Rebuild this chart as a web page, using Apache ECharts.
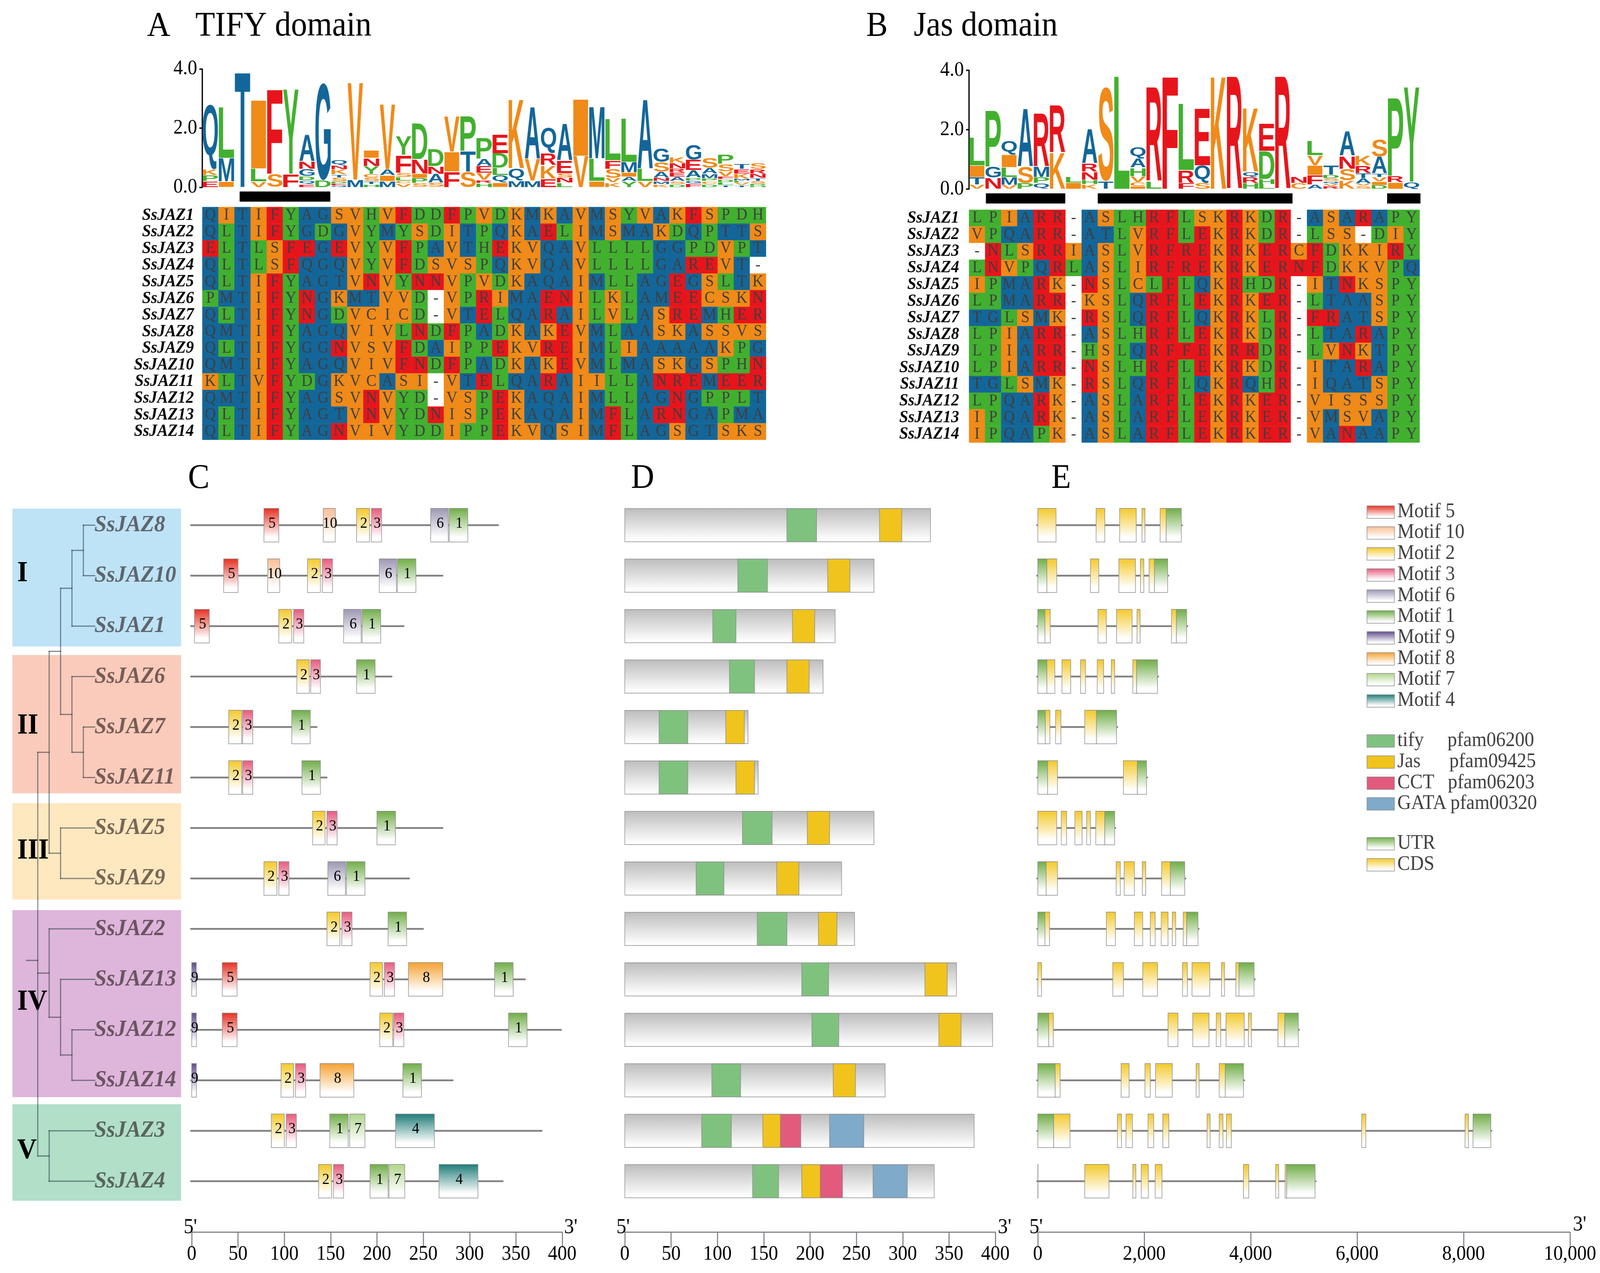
<!DOCTYPE html>
<html><head><meta charset="utf-8">
<style>html,body{margin:0;padding:0;background:#fff;overflow:hidden}#c{width:4374px;height:3259px;transform-origin:0 0}</style>
<script src="https://cdn.jsdelivr.net/npm/echarts@6/dist/echarts.min.js"></script>
</head><body><div id="c"></div>
<script>
// ---------- DATA ----------
const alignNames=['SsJAZ1','SsJAZ2','SsJAZ3','SsJAZ4','SsJAZ5','SsJAZ6','SsJAZ7','SsJAZ8','SsJAZ9','SsJAZ10','SsJAZ11','SsJAZ12','SsJAZ13','SsJAZ14'];
const tifyRows=['QITIFYAGSVHVFDDFPVDKMKAVMSYVAKFSPDH','QLTIFYGDGVYMYSDITPQKAELIMSMAKDQPTTS','ELTLSFEGEVYVFPAVTHEKVQAVLLLLGGPDVPT','QLTLSFQGQVYVFDSVSPQKVQAVLLLLGAREVT-','QLTIFYAGTVNVYNNVPVDKAQAIMLLAGEGSLTK','PMTIFYNGKMTVVD-VPRIMAENILKLAMEECSKN','QLTIFYNGDVCICD-VTELQARAILVLASREMHER','QMTIFYAGQVIVLNDFPADKAKEVMLAASKASSVS','QLTIFYGGNVSVFDAIPPEKVREIMLIAAAAAKPG','QMTIFYAGQVIVFNDFPADKAKEVMLMASKGSPHN','KLTVFYDGKVCASI-VTELQARAIILLANREMEER','QMTIFYAGSVNVYD-VSPEKAQAIMLLAGNGPPLT','QLTIFYAGTVNVYDNISPEKAQAIMFLARNGAPMA','QLTIFYAGNVIVYDDIPPEKVQSIMFLAGSGTSKS'];
const jasRows=['LPIARR-ASLHRFLSKRKDR-ASARAPY','VPQARR-ATLVRFLEKRKDR-LSS-DIY','-NLSRRIASLVRFREKRKERCFDKKIRY','LNVPQRLASLIRFREKRKERNFDKKVPQ','IPMARK-NSLCLFLQKRHDR-ITNKSPY','LPMARR-KSLQRFLEKRKER-LTAASPY','TGLSMK-RSLQRFLQKRKLR-FRATSPY','LPIARR-ASLHRFLEKRKDR-LTARAPY','LPIARR-HSLQRFFEKRRDR-LVNKTPY','LPIARR-NSLHRFLEKRKDR-ITARAPY','TGLSMK-RSLQRFLQKRQHR-IQATSPY','LPQARK-ASLARFLEKRKER-VISSSPY','IPQARK-ASLARFLEKRKER-VMSVAPY','IPQAPK-ASLARFLEKRKER-VANAAPY'];
const tifyLogoLetters=['EPKQ','IML','T','VLI','SF','FY','EQDGNA','DG','QEDSTKNQ','MV','HTSCYNI','MIAV','VCLSFY','SPIND','SAND','FIV','STP','HRVEAP','IQLDE','MQK','MVA','EKRQ','LNSEA','VI','ILM','KVSFL','YAIML','VLA','KMNASG','DSAERNK','FGPAEG','DCPMAS','TLDFVSP','TVLMKET','HDSTNRS'];
const tifyLogoHeights=[[.2,.2,.2,2.2],[.19,.8,1.73],[3.9],[.19,.44,2.33],[.45,2.87],[.45,2.87],[.11,.12,.14,.25,.26,.9],[.23,3.3],[.06,.07,.06,.14,.1,.17,.13,.2],[.25,3.29],[.1,.1,.12,.12,.27,.28,.26],[.2,.2,.2,2.2],[.12,.1,.12,.15,.6,.65],[.14,.17,.15,.48,1.22],[.15,.3,.26,.6],[.53,.67,1.2],[.53,.7,1.2],[.14,.1,.24,.24,.24,.72],[.15,.25,.25,.5,.65],[.22,.42,2.34],[.22,.74,1.75],[.29,.45,.41,.87],[.15,.17,.15,.43,1.25],[1.06,1.93],[.2,.77,1.75],[.16,.15,.31,.29,1.4],[.2,.15,.15,.35,1.47],[.2,.43,2.34],[.1,.1,.12,.2,.33,.47],[.1,.1,.15,.15,.13,.18,.2],[.12,.1,.1,.25,.35,.5],[.1,.1,.1,.15,.2,.35],[.07,.1,.1,.1,.17,.25,.33],[.07,.08,.07,.07,.17,.15,.17],[.05,.06,.1,.1,.15,.15,.2]];
const jasLogoLetters=['VTIL','NGP','VMLIQ','PSA','QPMR','KR','IL','KHNRA','TS','L','ICVHAQ','LR','F','FRL','SQE','K','R','HRQK','LHDE','R','CN','AFIVL','RVQSDT','KSNA','SVATRK','DIVTAS','IRP','QY'];
const jasLogoHeights=[[.15,.25,.4,.94],[.38,.38,1.9],[.13,.27,.33,.43,.48],[.2,.55,1.95],[.2,.2,.35,1.8],[1.23,1.6],[.22,.2],[.16,.15,.27,.29,1.15],[.26,3.18],[3.8],[.1,.13,.2,.29,.31,.39],[.26,3.18],[3.8],[.2,.43,2.25],[.2,.6,1.93],[3.8],[3.8],[.2,.2,.18,2.15],[.16,.17,.95,.93],[3.8],[.2,.22],[.15,.32,.33,.33,.49],[.1,.08,.08,.1,.12,.32],[.29,.39,.43,.84],[.11,.08,.17,.17,.26,.34],[.13,.12,.15,.12,.57,.59],[.22,.22,2.65],[.24,3.2]];
const tifyBars=[[2.32,7.95]];
const jasBars=[[1.05,5.98],[8,20.1],[25.98,28.05]];

const geneOrder=['SsJAZ8','SsJAZ10','SsJAZ1','SsJAZ6','SsJAZ7','SsJAZ11','SsJAZ5','SsJAZ9','SsJAZ2','SsJAZ13','SsJAZ12','SsJAZ14','SsJAZ3','SsJAZ4'];
const proteinLength=[330,270,228,215,134,145,270,234,249,359,398,281,377,335];
const motifs8=[[5,78,94],[10,142,155],[2,178,192],[3,194,205],[6,258,277],[1,278,298]];
const motifs10=[[5,34.5,50],[10,82,95],[2,125,139],[3,141,152],[6,202.5,221],[1,222,242]];
const motifs1=[[5,3,19],[2,94,108],[3,110,121],[6,164,183],[1,184,204]];
const motifs6=[[2,113.5,127],[3,128.5,139],[1,178,198]];
const motifs7=[[2,40,54],[3,55,66],[1,108,128]];
const motifs11=[[2,40,54],[3,55,66],[1,119,139]];
const motifs5=[[2,130.5,144],[3,146,157],[1,200,220]];
const motifs9=[[2,78,92],[3,94,105],[6,147,166],[1,167,187]];
const motifs2=[[2,146,160],[3,162,173],[1,212,232]];
const motifs13=[[9,0,5],[5,33,49],[2,192.5,206],[3,208,219],[8,234,271],[1,327,347]];
const motifs12=[[9,0,5],[5,33,49],[2,203,217],[3,218,229],[1,342,362]];
const motifs14=[[9,0,5],[2,96.5,110],[3,112,123],[8,138.5,175],[1,228,248]];
const motifs3=[[2,86,100],[3,102,113],[1,149,169],[7,170.5,187],[4,220,262]];
const motifs4=[[2,137,151],[3,153,164],[1,192.5,212],[7,213,230],[4,267,309]];
const motifsByGene=[motifs8,motifs10,motifs1,motifs6,motifs7,motifs11,motifs5,motifs9,motifs2,motifs13,motifs12,motifs14,motifs3,motifs4];

const tifyDomain=[[175,207],[122,154],[95,120],[113,140],[37,68],[37,68],[127,159],[77,107],[143,175],[191,220],[202,231],[94,125],[83,115],[138,166]];
const jasDomain=[[275,299],[219,243],[181,205],[175,199],[109,129],[120,140],[197,221],[164,188],[209,229],[324,348],[339,363],[225,249],[149,168],[191,211]];
const cctDomain=[null,null,null,null,null,null,null,null,null,null,null,null,[168,190],[211,235]];
const gataDomain=[null,null,null,null,null,null,null,null,null,null,null,null,[221,258],[268,305]];
const proteinEnd=[330,269,227,214,133,144,269,234,248,358,397,281,377,334];

const exons8=[['C',0,342],['C',1096,1260],['C',1537,1850],['C',1957,2014],['C',2299,2413],['U',2413,2697]];
const exons10=[['U',0,171],['C',171,356],['C',989,1146],['C',1523,1836],['C',1929,1993],['C',2092,2192],['U',2192,2441]];
const exons1=[['U',0,135],['C',135,235],['C',1132,1288],['C',1480,1772],['C',1865,1922],['C',2512,2605],['U',2605,2797]];
const exons6=[['U',0,171],['C',171,320],['C',455,619],['C',804,897],['C',1117,1238],['C',1381,1445],['C',1786,1857],['U',1857,2249]];
const exons7=[['U',0,142],['C',142,228],['C',334,434],['C',882,1103],['U',1103,1480]];
const exons11=[['U',0,185],['C',185,370],['C',1608,1872],['U',1872,2043]];
const exons5=[['C',0,356],['C',441,541],['C',697,833],['C',918,989],['C',1089,1260],['U',1260,1445]];
const exons9=[['U',0,157],['C',157,370],['C',1473,1551],['C',1623,1815],['C',1964,2028],['C',2327,2491],['U',2491,2761]];
const exons2=[['U',0,135],['C',135,221],['C',1288,1459],['C',1815,1971],['C',2114,2206],['C',2320,2448],['C',2527,2591],['C',2733,2797],['U',2797,3010]];
const exons13=[['C',0,71],['C',1409,1608],['C',1971,2249],['C',2719,2811],['C',2897,3231],['C',3452,3509],['C',3722,3779],['U',3779,4064]];
const exons12=[['U',0,206],['C',206,292],['C',2448,2633],['C',2911,3217],['C',3352,3438],['C',3537,3879],['C',3957,4014],['C',4512,4640],['U',4640,4896]];
const exons14=[['U',0,327],['C',327,420],['C',1566,1715],['C',2014,2114],['C',2213,2527],['C',2975,3032],['C',3409,3523],['U',3523,3865]];
const exons3=[['U',0,299],['C',299,605],['C',1495,1573],['C',1658,1779],['C',2071,2178],['C',2349,2462],['C',3181,3238],['C',3409,3480],['C',3544,3637],['C',6085,6163],['C',8028,8092],['U',8177,8512]];
const exons4=[['U',0,4],['C',882,1338],['C',1786,1843],['C',1943,2078],['C',2206,2334],['C',3864,3964],['C',4469,4526],['C',4647,4676],['U',4676,5210]];
const exonsByGene=[exons8,exons10,exons1,exons6,exons7,exons11,exons5,exons9,exons2,exons13,exons12,exons14,exons3,exons4];

// nested [depth, child, child...]; a plain number is the row of a leaf
const treeShape=[1,[2,[3,[4,[5,0,1],2],[4,3,[5,4,5]]],[3,6,7]],[2,8,[3,9,[4,10,11]]],[2,12,13]];

const aaTicks=[0,50,100,150,200,250,300,350,400];
const bpTicks=[0,2000,4000,6000,8000,10000];
const motifLegend=[5,10,2,3,6,1,9,8,7,4];
const domainLegend=[['tify','pfam06200'],['Jas','pfam09425'],['CCT','pfam06203'],['GATA','pfam00320']];

// the browser window can be narrower than the chart: fit the whole chart in it
const host=document.getElementById('c');
if(window.innerWidth<4374){host.style.transform='scaleX('+(window.innerWidth/4374)+')';}

// ---------- STYLE ----------
const SERIF='"Liberation Serif"';
const residueColor={Q:'#136699',T:'#136699',A:'#136699',G:'#136699',M:'#136699',L:'#42B02F',Y:'#42B02F',P:'#42B02F',D:'#42B02F',H:'#42B02F',V:'#F08A18',I:'#F08A18',S:'#F08A18',K:'#F08A18',C:'#F08A18',F:'#E7151B',N:'#E7151B',E:'#E7151B',R:'#E7151B','-':'#FFFFFF'};
const motifColor={5:'#E53021',10:'#F9BE94',2:'#F4C92A',3:'#E75B7D',6:'#9D97B4',1:'#70AD47',9:'#5E4A8B',8:'#F5A232',7:'#B0D58C',4:'#1F7C78'};
const domainColor={tify:'#7FC27E',Jas:'#F0C41C',CCT:'#E25A7C',GATA:'#7FAAC9'};
const grad=(c,end)=>new echarts.graphic.LinearGradient(0,0,0,1,[{offset:0,color:c},{offset:end||0.85,color:'#FFFFFF'},{offset:1,color:'#FFFFFF'}]);
const EDGE='#8C8C8C',AXIS_GREY='#85808A';

// stretched sequence-logo glyph
const mCtx=document.createElement('canvas').getContext('2d');
const LOGO_FONT='bold 200px "Liberation Sans"';
const glyphBox={};
function glyph(ch){
  if(!glyphBox[ch]){mCtx.font=LOGO_FONT;mCtx.textBaseline='middle';mCtx.textAlign='left';
    const m=mCtx.measureText(ch);
    glyphBox[ch]={l:m.actualBoundingBoxLeft,r:m.actualBoundingBoxRight,a:m.actualBoundingBoxAscent,d:m.actualBoundingBoxDescent};}
  return glyphBox[ch];
}
function logoSeries(letters,heights,bars,gridIdx){
  const items=[];
  letters.forEach((s,col)=>{let base=0;[...s].forEach((ch,k)=>{const h=heights[col][k];items.push([col,base,base+h,ch]);base+=h;});});
  return [{type:'custom',xAxisIndex:gridIdx,yAxisIndex:gridIdx,coordinateSystem:'cartesian2d',silent:true,animation:false,
    data:items.map(d=>[d[0],d[2]]),
    renderItem(params,api){
      const d=items[params.dataIndex];
      const p0=api.coord([d[0],d[1]]),p1=api.coord([d[0]+1,d[2]]);
      const x0=p0[0]+1,x1=p1[0]-1,yb=p0[1]-0.7,yt=p1[1]+0.7;
      const g=glyph(d[3]);
      const sx=(x1-x0)/(g.r+g.l),sy=Math.max(yb-yt,1)/(g.a+g.d);
      return {type:'text',x:x0+g.l*sx,y:yt+g.a*sy,scaleX:sx,scaleY:sy,
        style:{text:d[3],x:0,y:0,font:LOGO_FONT,fill:residueColor[d[3]],align:'left',verticalAlign:'middle',textAlign:'left',textVerticalAlign:'middle'}};
    }},
   {type:'custom',xAxisIndex:gridIdx,yAxisIndex:gridIdx,coordinateSystem:'cartesian2d',silent:true,animation:false,
    data:bars.map(b=>[b[0],0]),
    renderItem(params,api){
      const b=bars[params.dataIndex];
      const p=api.coord([b[0],0]),q=api.coord([b[1],0]);
      return {type:'rect',shape:{x:p[0],y:p[1]+11,width:q[0]-p[0],height:26},style:{fill:'#000'}};
    }}];
}
function alignSeries(rows,gridIdx){
  const data=[];
  rows.forEach((r,y)=>[...r].forEach((ch,x)=>data.push({name:ch,value:[x,y,1],itemStyle:{color:residueColor[ch]}})));
  return {type:'heatmap',xAxisIndex:gridIdx,yAxisIndex:gridIdx,silent:true,data,
    label:{show:true,formatter:p=>p.name,fontFamily:SERIF,fontSize:42,color:'#3F3F3F'},
    emphasis:{disabled:true}};
}
function motifSeries(){
  const items=[];motifsByGene.forEach((ms,row)=>ms.forEach(m=>items.push([row,m[0],m[1],m[2]])));
  return {type:'custom',xAxisIndex:4,yAxisIndex:4,coordinateSystem:'cartesian2d',silent:true,animation:false,z:3,
    data:items.map(d=>[d[2],d[0]]),
    renderItem(params,api){
      const d=items[params.dataIndex];
      const p=api.coord([d[2],d[0]]),q=api.coord([d[3],d[0]]);
      const c=motifColor[d[1]];
      return {type:'group',children:[
        {type:'rect',shape:{x:p[0],y:p[1]-43,width:q[0]-p[0],height:86},style:{fill:grad(c),stroke:EDGE,lineWidth:1.5}},
        {type:'text',x:(p[0]+q[0])/2+2,y:p[1]-4,style:{text:String(d[1]),x:0,y:0,font:'40px '+SERIF,fill:'#000',align:'center',verticalAlign:'middle',textAlign:'center',textVerticalAlign:'middle'}}
      ]};
    }};
}
function geneLine(lengths,gridIdx){
  return {type:'custom',xAxisIndex:gridIdx,yAxisIndex:gridIdx,coordinateSystem:'cartesian2d',silent:true,animation:false,z:2,
    data:lengths.map((l,i)=>[l,i]),
    renderItem(params,api){
      const i=params.dataIndex;const p=api.coord([0,i]),q=api.coord([lengths[i],i]);
      return {type:'line',shape:{x1:p[0]-2,y1:p[1],x2:q[0]+2,y2:p[1]},style:{stroke:'#808080',lineWidth:4.5,lineCap:'round'}};
    }};
}
function proteinSeries(){
  const items=[];
  proteinEnd.forEach((e,row)=>{
    items.push(['bg',row,0,e]);
    [['tify',tifyDomain],['Jas',jasDomain],['CCT',cctDomain],['GATA',gataDomain]].forEach(([n,arr])=>{if(arr[row])items.push([n,row,arr[row][0],arr[row][1]]);});
  });
  return {type:'custom',xAxisIndex:5,yAxisIndex:5,coordinateSystem:'cartesian2d',silent:true,animation:false,z:3,
    data:items.map(d=>[d[3],d[1]]),
    renderItem(params,api){
      const d=items[params.dataIndex];
      const p=api.coord([d[2],d[1]]),q=api.coord([d[3],d[1]]);
      const fill=d[0]==='bg'?grad('#BDBDBD',0.95):domainColor[d[0]];
      return {type:'rect',shape:{x:p[0],y:p[1]-42.5,width:q[0]-p[0],height:85},style:{fill,stroke:EDGE,lineWidth:1.5}};
    }};
}
function exonSeries(){
  const items=[];exonsByGene.forEach((es,row)=>es.forEach(e=>items.push([row,e[0],e[1],e[2]])));
  return {type:'custom',xAxisIndex:6,yAxisIndex:6,coordinateSystem:'cartesian2d',silent:true,animation:false,z:3,
    data:items.map(d=>[d[3],d[0]]),
    renderItem(params,api){
      const d=items[params.dataIndex];
      const p=api.coord([d[2],d[0]]),q=api.coord([d[3],d[0]]);
      return {type:'rect',shape:{x:p[0],y:p[1]-43,width:q[0]-p[0],height:86},style:{fill:grad(d[1]==='U'?motifColor[1]:motifColor[2]),stroke:EDGE,lineWidth:1.5}};
    }};
}
function treeSeries(){
  const segs=[];
  function walk(n){
    if(typeof n==='number')return {y:n,d:6};
    const d=n[0],kids=n.slice(1).map(walk);
    const ys=kids.map(k=>k.y);
    segs.push([d,Math.min(...ys),d,Math.max(...ys)]);
    kids.forEach(k=>segs.push([d,k.y,k.d,k.y]));
    return {y:ys.reduce((a,b)=>a+b,0)/ys.length,d};
  }
  const root=walk(treeShape);
  segs.push([0,root.y,root.d,root.y]);
  return {type:'custom',xAxisIndex:7,yAxisIndex:7,coordinateSystem:'cartesian2d',silent:true,animation:false,z:4,
    data:segs.map(s=>[s[0],s[1]]),
    renderItem(params,api){
      const s=segs[params.dataIndex];const a=api.coord([s[0],s[1]]),b=api.coord([s[2],s[3]]);
      return {type:'line',shape:{x1:a[0],y1:a[1],x2:b[0],y2:b[1]},style:{stroke:'rgba(30,50,60,0.55)',lineWidth:3,lineCap:'square'}};
    }};
}

// ---------- LAYOUT ----------
const ROW=129.2,ROW_TOP=1344.5-ROW/2,ROWS_H=ROW*14,AXIS_Y=3154;
function tickLabelSeries(ticks,gridIdx,fmt){
  return {type:'custom',xAxisIndex:gridIdx,yAxisIndex:gridIdx,coordinateSystem:'cartesian2d',silent:true,animation:false,z:5,
    data:ticks.map(v=>[v,13]),
    renderItem(params,api){
      const v=ticks[params.dataIndex];const p=api.coord([v,13]);
      return {type:'text',x:p[0],y:AXIS_Y+57.5,style:{text:fmt(v),x:0,y:0,font:'52px '+SERIF,fill:'#000',align:'center',verticalAlign:'middle',textAlign:'center',textVerticalAlign:'middle'}};
    }};
}
const grids=[
 {left:553,top:176.7,width:1541,height:302.6},
 {left:553,top:530,width:1541,height:596},
 {left:2649,top:180,width:1232,height:304},
 {left:2649,top:537,width:1232,height:596},
 {left:524,top:ROW_TOP,width:1013,height:ROWS_H},
 {left:1708,top:ROW_TOP,width:1013,height:ROWS_H},
 {left:2837,top:ROW_TOP,width:1455,height:ROWS_H},
 {left:72,top:ROW_TOP,width:187,height:ROWS_H}
];
const hiddenVal=(min,max)=>({type:'value',min,max,show:false});
const logoY=()=>({type:'value',min:0,max:4,interval:2,offset:4,axisLine:{show:true,lineStyle:{color:'#000',width:3.5}},axisTick:{show:true,length:8,lineStyle:{color:'#000',width:3.5}},splitLine:{show:false},axisLabel:{fontFamily:SERIF,fontSize:52,color:'#000',margin:10,formatter:v=>v.toFixed(1)}});
const nameAxis=(m)=>({type:'category',inverse:true,data:alignNames,axisLine:{show:false},axisTick:{show:false},axisLabel:{fontFamily:SERIF,fontStyle:'italic',fontWeight:'bold',fontSize:44,color:'#000',margin:m,interval:0}});
const scaleAxis=(max,interval)=>({type:'value',min:0,max,interval,position:'bottom',offset:AXIS_Y-(ROW_TOP+ROWS_H),splitLine:{show:false},
  axisLine:{show:true,onZero:false,lineStyle:{color:AXIS_GREY,width:3}},axisTick:{show:true,length:40,lineStyle:{color:AXIS_GREY,width:3}},
  axisLabel:{show:false}});
const rowAxis=(show)=>({type:'category',inverse:true,data:geneOrder,axisLine:{show:false},axisTick:{show:false},axisLabel:show?{fontFamily:SERIF,fontStyle:'italic',fontWeight:'bold',fontSize:60,color:'rgba(35,25,25,0.62)',align:'left',margin:266,interval:0,padding:[0,0,16,0]}:{show:false}});
const range=n=>Array.from({length:n},(_,i)=>i+1);

const xAxis=[
 hiddenVal(0,35),
 {type:'category',data:range(35),show:false},
 hiddenVal(0,28),
 {type:'category',data:range(28),show:false},
 scaleAxis(400,50),
 scaleAxis(400,50),
 scaleAxis(10000,2000),
 hiddenVal(0,6)
].map((a,i)=>({...a,gridIndex:i}));
const yAxis=[logoY(),nameAxis(23),logoY(),nameAxis(27),rowAxis(true),rowAxis(false),rowAxis(false),{type:'value',min:-0.5,max:13.5,inverse:true,show:false}].map((a,i)=>({...a,gridIndex:i}));

// ---------- GRAPHIC (panel letters, clade bands, legends) ----------
const txt=(text,x,y,size,opt={})=>({type:'text',x,y,z:opt.z==null?50:opt.z,silent:true,style:{text,x:0,y:0,font:(opt.weight?opt.weight+' ':'')+size+'px '+SERIF,fill:opt.fill||'#000',align:opt.align||'left',verticalAlign:'middle',textAlign:opt.align||'left',textVerticalAlign:'middle'}});
const band=(y0,y1,c)=>({type:'rect',z:-5,silent:true,shape:{x:34,y:y0,width:461,height:y1-y0},style:{fill:c}});
const swatch=(y,fill)=>({type:'rect',z:50,silent:true,shape:{x:3737,y:y-16,width:75,height:32},style:{fill,stroke:EDGE,lineWidth:1.5}});
const motifLegendY=[1311,1364.5,1418,1472,1526,1579.5,1633,1687,1740,1794.5];
const domainLegendY=[1897,1951,2005,2058];
const pfamX=[3957,3962,3958,3965];
const elements=[
 txt('A',402,68,88),txt('TIFY domain',534,68,88),
 txt('B',2368,68,88),txt('Jas domain',2498,68,88),
 txt('C',514,1226,88),txt('D',1725,1226,88),txt('E',2874,1226,88),
 band(1302,1655,'#BEE3F6'),band(1677,2031,'#FACBBB'),band(2056,2303,'#FEE8BF'),band(2330,2809,'#DEB5DB'),band(2827,3074,'#B1DFC8'),
 txt('I',47,1469,74,{weight:'bold'}),txt('II',47,1859,74,{weight:'bold'}),txt('III',47,2179,74,{weight:'bold'}),txt('IV',47,2566,74,{weight:'bold'}),txt('V',47,2947,74,{weight:'bold'}),
 txt("5'",502,3143,54),txt("3'",1542,3143,54),
 txt("5'",1685,3143,54),txt("3'",2728,3143,54),
 txt("5'",2814,3143,54),txt("3'",4300,3136,54)
];
motifLegend.forEach((m,i)=>{elements.push(swatch(motifLegendY[i],grad(motifColor[m])));elements.push(txt('Motif '+m,3820,motifLegendY[i]-1,52,{fill:'#3F3F3F'}));});
domainLegend.forEach((d,i)=>{elements.push(swatch(domainLegendY[i],domainColor[d[0]]));elements.push(txt(d[0],3820,domainLegendY[i]-1,52,{fill:'#3F3F3F'}));elements.push(txt(d[1],pfamX[i],domainLegendY[i]-1,52,{fill:'#3F3F3F'}));});
[['UTR',2160,motifColor[1]],['CDS',2214,motifColor[2]]].forEach(([t,y,c])=>{elements.push(swatch(y,grad(c)));elements.push(txt(t,3820,y-1,52,{fill:'#3F3F3F'}));});

// ---------- CHART ----------
const chart=echarts.init(host,null,{renderer:'canvas',width:4374,height:3259});
chart.setOption({
  animation:false,backgroundColor:'#fff',tooltip:{show:false},
  grid:grids,xAxis,yAxis,graphic:{elements},
  series:[
    ...logoSeries(tifyLogoLetters,tifyLogoHeights,tifyBars,0),
    alignSeries(tifyRows,1),
    ...logoSeries(jasLogoLetters,jasLogoHeights,jasBars,2),
    alignSeries(jasRows,3),
    geneLine(proteinLength,4),motifSeries(),
    proteinSeries(),
    geneLine(exonsByGene.map(es=>es[es.length-1][2]),6),exonSeries(),
    treeSeries(),
    tickLabelSeries(aaTicks,4,v=>String(v)),
    tickLabelSeries(aaTicks,5,v=>String(v)),
    tickLabelSeries(bpTicks,6,v=>v.toLocaleString('en-US'))
  ]
});
</script></body></html>
